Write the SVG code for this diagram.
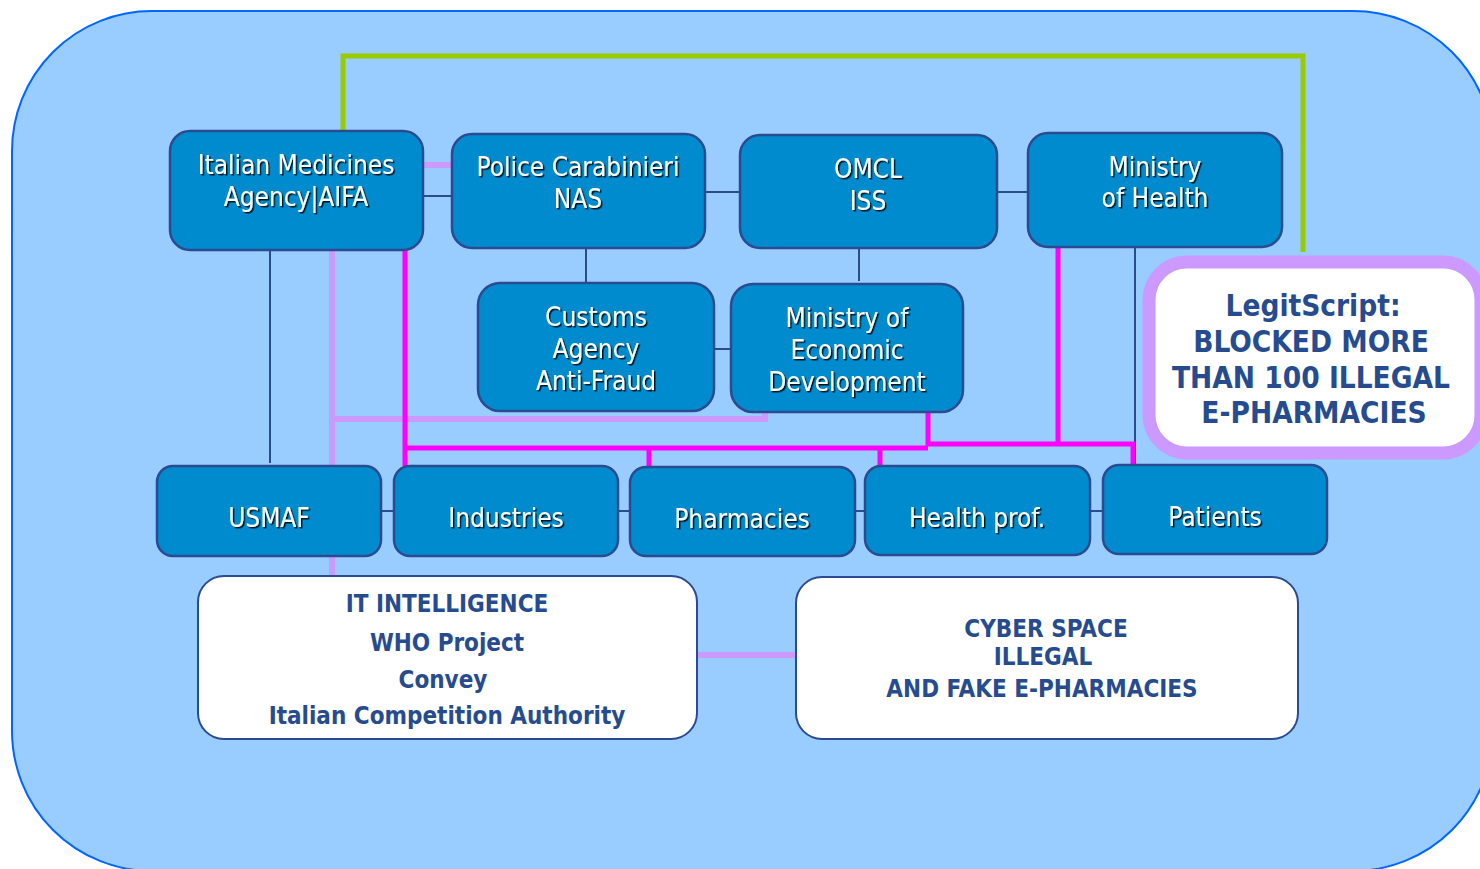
<svg xmlns="http://www.w3.org/2000/svg" width="1480" height="869" viewBox="0 0 1480 869">
<defs>
<filter id="sh" x="-10%" y="-10%" width="120%" height="130%">
<feDropShadow dx="1.5" dy="1.5" stdDeviation="0.4" flood-color="#000" flood-opacity="0.85"/>
</filter>
<style>
.node{fill:#008bcf;stroke:#2b4b90;stroke-width:2.5}
.wbox{fill:#ffffff;stroke:#2b4b90;stroke-width:2}
.nt{font-family:"DejaVu Sans Condensed","DejaVu Sans",sans-serif;font-size:26px;fill:#ffffff;text-anchor:middle;filter:url(#sh)}
.bt{font-family:"DejaVu Sans Condensed","DejaVu Sans",sans-serif;font-weight:bold;font-size:24px;fill:#264b8f;text-anchor:middle}
.lt{font-family:"DejaVu Sans Condensed","DejaVu Sans",sans-serif;font-weight:bold;font-size:29.5px;fill:#264b8f;text-anchor:middle}
.thin{fill:none;stroke:#2b4b90;stroke-width:2}
.lav{fill:none;stroke:#cc99ff;stroke-width:6}
.mag{fill:none;stroke:#ff00ff;stroke-width:5}
.grn{fill:none;stroke:#99cc00;stroke-width:5}
</style>
</defs>
<rect id="background" x="12" y="11" width="1481" height="860" rx="140" ry="140" fill="#99ccff" stroke="#0066ff" stroke-width="2"/>
<g id="connectors">
<polyline class="grn" points="343,131 343,56 1303,56 1303,252"/>
<line class="thin" x1="423" y1="196" x2="452" y2="196"/>
<line class="thin" x1="705" y1="192" x2="740" y2="192"/>
<line class="thin" x1="997" y1="192" x2="1028" y2="192"/>
<line class="thin" x1="586" y1="248" x2="586" y2="283"/>
<line class="thin" x1="859" y1="248" x2="859" y2="281"/>
<line class="thin" x1="714" y1="349" x2="731" y2="349"/>
<line class="thin" x1="270" y1="250" x2="270" y2="463"/>
<line class="thin" x1="1135" y1="247" x2="1135" y2="465"/>
<line class="thin" x1="381" y1="511" x2="394" y2="511"/>
<line class="thin" x1="618" y1="511" x2="630" y2="511"/>
<line class="thin" x1="855" y1="511" x2="865" y2="511"/>
<line class="thin" x1="1090" y1="511" x2="1103" y2="511"/>
<line class="lav" x1="423" y1="165" x2="452" y2="165"/>
<line class="lav" x1="332" y1="250" x2="332" y2="576"/>
<polyline class="lav" points="332,419 765,419 765,412"/>
<line class="lav" x1="697" y1="655" x2="796" y2="655"/>
<polyline class="mag" points="405,250 405,466"/>
<polyline class="mag" points="405,448 928,448"/>
<polyline class="mag" points="928,412 928,444 1133,444 1133,465"/>
<line class="mag" x1="1058" y1="247" x2="1058" y2="444"/>
<line class="mag" x1="649" y1="448" x2="649" y2="467"/>
<line class="mag" x1="880" y1="446" x2="880" y2="466"/>
</g>
<g id="aifa"><rect class="node" x="170" y="131" width="253" height="119" rx="20"/><text class="nt" x="296" y="174">Italian Medicines</text><text class="nt" x="296" y="206">Agency|AIFA</text></g>
<g id="police"><rect class="node" x="452" y="134" width="253" height="114" rx="20"/><text class="nt" x="578" y="176">Police Carabinieri</text><text class="nt" x="578" y="208">NAS</text></g>
<g id="omcl"><rect class="node" x="740" y="135" width="257" height="113" rx="20"/><text class="nt" x="868" y="178">OMCL</text><text class="nt" x="868" y="210">ISS</text></g>
<g id="moh"><rect class="node" x="1028" y="133" width="254" height="114" rx="20"/><text class="nt" x="1155" y="176">Ministry</text><text class="nt" x="1155" y="207">of Health</text></g>
<g id="customs"><rect class="node" x="478" y="283" width="236" height="128" rx="22"/><text class="nt" x="596" y="326">Customs</text><text class="nt" x="596" y="358">Agency</text><text class="nt" x="596" y="390">Anti-Fraud</text></g>
<g id="med"><rect class="node" x="731" y="284" width="232" height="128" rx="22"/><text class="nt" x="847" y="327">Ministry of</text><text class="nt" x="847" y="359">Economic</text><text class="nt" x="847" y="391">Development</text></g>
<g id="usmaf"><rect class="node" x="157" y="466" width="224" height="90" rx="16"/><text class="nt" x="269" y="527">USMAF</text></g>
<g id="industries"><rect class="node" x="394" y="466" width="224" height="90" rx="16"/><text class="nt" x="506" y="527">Industries</text></g>
<g id="pharmacies"><rect class="node" x="630" y="467" width="225" height="89" rx="16"/><text class="nt" x="742" y="528">Pharmacies</text></g>
<g id="healthprof"><rect class="node" x="865" y="466" width="225" height="89" rx="16"/><text class="nt" x="977" y="527">Health prof.</text></g>
<g id="patients"><rect class="node" x="1103" y="465" width="224" height="89" rx="16"/><text class="nt" x="1215" y="526">Patients</text></g>
<g id="legitscript"><rect x="1149" y="262" width="332" height="191" rx="38" fill="#ffffff" stroke="#cc99ff" stroke-width="13"/><text class="lt" x="1313" y="316">LegitScript:</text><text class="lt" x="1311" y="352">BLOCKED MORE</text><text class="lt" x="1311" y="388">THAN 100 ILLEGAL</text><text class="lt" x="1314" y="423">E-PHARMACIES</text></g>
<g id="itintel"><rect class="wbox" x="198" y="576" width="499" height="163" rx="26"/><text class="bt" x="447" y="612">IT INTELLIGENCE</text><text class="bt" x="447" y="651">WHO Project</text><text class="bt" x="443" y="688">Convey</text><text class="bt" x="447" y="724">Italian Competition Authority</text></g>
<g id="cyber"><rect class="wbox" x="796" y="577" width="502" height="162" rx="26"/><text class="bt" x="1046" y="637">CYBER SPACE</text><text class="bt" x="1043" y="665">ILLEGAL</text><text class="bt" x="1042" y="697">AND FAKE E-PHARMACIES</text></g>
</svg>
